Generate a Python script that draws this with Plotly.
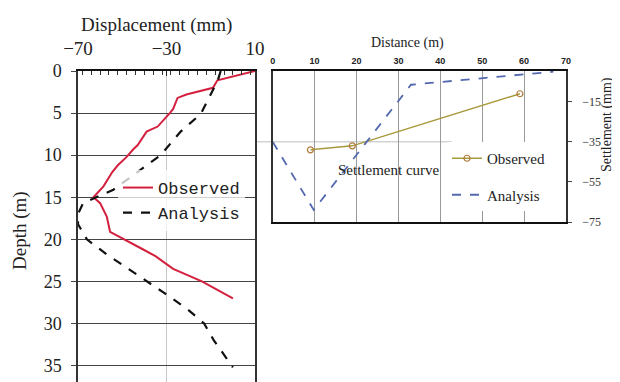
import plotly.graph_objects as go

# ---------------- Left chart: lateral displacement vs depth ----------------
obs_depth = [0, 1.1, 2.0, 2.8, 3.2, 4.5, 5.0, 6.6, 7.2, 8.8, 9.3, 10.2, 11.2, 12.0, 13.7, 15.0, 15.7, 17.3, 19.1, 20.1, 21.0, 22.0, 23.5, 25.0, 27.0]
obs_disp = [10, -7, -9, -21, -25, -27, -28.5, -34, -39, -43, -45, -48, -52, -54.5, -58.5, -63, -60, -57, -55.5, -48, -42, -35, -27, -14, 0]

ana_depth = [0, 1.1, 5.1, 7.2, 10.0, 12.0, 14.1, 15.7, 17.0, 18.2, 20.0, 21.8, 25.0, 26.3, 28.3, 30.0, 32.0, 35.2]
ana_disp = [-5.5, -6.8, -14.5, -23.6, -32.7, -43, -54, -67.7, -70, -70, -66, -57, -38.6, -31.4, -20.5, -13, -8.6, 0]

disp_ticks = [-70, -30, 10]
depth_ticks = [0, 5, 10, 15, 20, 25, 30, 35]

# ---------------- Right chart: settlement vs distance ----------------
set_obs_dist = [9, 19, 59]
set_obs_val = [-39, -37, -11]
set_ana_dist = [0, 9.8, 33, 67]
set_ana_val = [-35, -69, -6.5, 0]

dist_ticks = [0, 10, 20, 30, 40, 50, 60, 70]
settle_ticks = [-15, -35, -55, -75]

W, H = 620, 382
OFF = 8  # page body margin
px = lambda v: (v - OFF) / W
py = lambda v: 1 - (v - OFF) / H

serif = "Liberation Serif"

fig = go.Figure()

fig.add_trace(go.Scatter(x=obs_disp, y=obs_depth, mode="lines", name="Observed",
                         line=dict(color="#d4203f", width=2), xaxis="x", yaxis="y",
                         legend="legend"))
fig.add_trace(go.Scatter(x=ana_disp, y=ana_depth, mode="lines", name="Analysis",
                         line=dict(color="#111111", width=2.2, dash="dash"), xaxis="x", yaxis="y",
                         legend="legend"))

fig.add_trace(go.Scatter(x=set_obs_dist, y=set_obs_val, mode="lines+markers", name="Observed",
                         line=dict(color="#a89a3c", width=1.5),
                         marker=dict(symbol="circle-open", size=6, color="#b07a3a", line=dict(width=1.2)),
                         xaxis="x2", yaxis="y2", legend="legend2", legendgroup="a"))
fig.add_trace(go.Scatter(x=set_ana_dist, y=set_ana_val, mode="lines", name="Analysis",
                         line=dict(color="#5468b0", width=1.8, dash="dash"),
                         xaxis="x2", yaxis="y2", legend="legend2", legendgroup="b"))

fig.update_layout(
    width=W, height=H,
    margin=dict(l=0, r=0, t=0, b=0),
    paper_bgcolor="white", plot_bgcolor="white",
    showlegend=True,
    xaxis=dict(domain=[px(78), px(255)], range=[-70, 10], side="top", anchor="y", automargin=False,
               tickvals=disp_ticks, ticks="inside", ticklen=5, tickcolor="#222",
               ticklabelstandoff=6,
               showline=True, linecolor="#111", linewidth=2,
               showgrid=True, gridcolor="#c8c8c8", gridwidth=1, zeroline=False,
               minor=dict(dtick=4, ticks="inside", ticklen=4, tickcolor="#333", showgrid=False),
               tickfont=dict(family=serif, size=19, color="#222")),
    yaxis=dict(domain=[0, py(71)], range=[37.9, 0], anchor="x", automargin=False,
               tickvals=depth_ticks, ticks="outside", ticklen=5, tickcolor="#444",
               ticklabelstandoff=6,
               showline=True, linecolor="#333", linewidth=1.5, mirror=True,
               showgrid=True, gridcolor="#444", gridwidth=1, zeroline=False,
               tickfont=dict(family=serif, size=18, color="#222")),
    xaxis2=dict(domain=[px(272.7), px(566)], range=[0, 70], side="top", anchor="y2", automargin=False,
                tickvals=dist_ticks, ticks="", showline=True, linecolor="#111", linewidth=2,
                mirror=True, showgrid=True, gridcolor="#9a9a9a", gridwidth=1, zeroline=False,
                ticklabelstandoff=1,
                tickfont=dict(family="Liberation Sans", size=9, color="#222", weight="bold")),
    yaxis2=dict(domain=[py(222), py(70.7)], range=[-75, 0.5], side="right", anchor="x2", automargin=False,
                tickvals=settle_ticks, ticks="outside", ticklen=4, tickcolor="#444",
                ticklabelstandoff=8,
                showline=True, linecolor="#333", linewidth=1.5, mirror=True,
                showgrid=False, zeroline=False,
                tickfont=dict(family=serif, size=12, color="#333")),
    legend=dict(x=px(118), y=py(170), xanchor="left", yanchor="top",
                bgcolor="rgba(255,255,255,0.75)", borderwidth=0,
                font=dict(family="Liberation Mono", size=17, color="#222"),
                tracegroupgap=0),
    legend2=dict(x=px(447), y=py(142), xanchor="left", yanchor="top",
                 bgcolor="white", borderwidth=0, traceorder="grouped", tracegroupgap=14,
                 font=dict(family=serif, size=15, color="#222")),
)

# single horizontal reference line of the settlement panel at -35
fig.add_shape(type="line", xref="x2 domain", yref="y2", x0=-0.06, x1=0.61, y0=-35, y1=-35,
              line=dict(color="#bdbdbd", width=1), layer="below")

ann = [
    dict(text="Displacement (mm)", x=px(156), y=py(25), size=19, angle=0),
    dict(text="Depth (m)", x=px(20), y=py(231), size=19, angle=-90),
    dict(text="Distance (m)", x=px(407), y=py(43), size=14, angle=0),
    dict(text="Settlement (mm)", x=px(607), y=py(125), size=14, angle=-90),
    dict(text="Settlement curve", x=px(389), y=py(170), size=15, angle=0),
]
for a in ann:
    fig.add_annotation(text=a["text"], x=a["x"], y=a["y"], xref="paper", yref="paper",
                       showarrow=False, textangle=a["angle"], xanchor="center", yanchor="middle",
                       font=dict(family=serif, size=a["size"], color="#222"))

fig.write_html("out.html")
